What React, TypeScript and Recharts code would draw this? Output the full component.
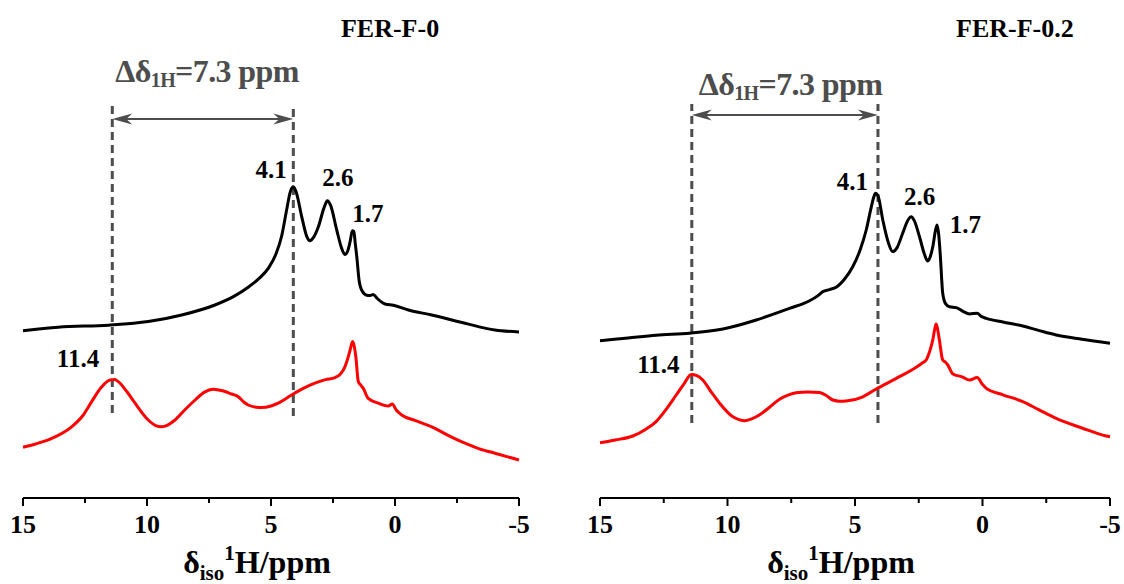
import React from "react";
import { LineChart, Line, XAxis, YAxis, ReferenceLine, ReferenceDot } from "recharts";

const SERIF = "'Liberation Serif', 'Times New Roman', serif";

// chemical shift axis (ppm), drawn reversed 15 -> -5
const ppmTicks = [15, 12.5, 10, 7.5, 5, 2.5, 0, -2.5, -5];
const majorTicks = [15, 10, 5, 0, -5];

// guide lines at the two marked shifts
const guidePpm = [11.4, 4.1];

// FER-F-0, black trace [ppm, intensity]
const fer0Black: [number, number][] = [
    [15, 41.8], [13.58, 42.7], [11.56, 43.2], [9.95, 44.1], [8.6, 45.75], [7.26, 48.25],
    [6.5, 50.4], [5.92, 52.7], [5.5, 54.8], [5.11, 57.4], [4.8, 61], [4.57, 65.5],
    [4.37, 72], [4.22, 76.6], [4.1, 77.8], [3.98, 76.4], [3.76, 70.3], [3.56, 65.4],
    [3.43, 64.3], [3.28, 65.2], [3.09, 67.8], [2.86, 72.6], [2.73, 74.3], [2.6, 73.2],
    [2.35, 67], [2.15, 62.4], [2.02, 60.9], [1.9, 61.9], [1.81, 64.1], [1.72, 66.8],
    [1.66, 66.6], [1.6, 63.5], [1.54, 60.3], [1.45, 54.5], [1.33, 51.8], [1.14, 50.7],
    [1.0, 50.6], [0.88, 50.9], [0.72, 49.9], [0.4, 48.5], [0.07, 48.2], [-0.54, 47],
    [-1.48, 45.75], [-2.82, 43.7], [-4.03, 42], [-5, 41.5],
];

// FER-F-0, red trace
const fer0Red: [number, number][] = [
    [15, 12.7], [14.5, 13.5], [13.84, 14.9], [13.04, 17.8], [12.6, 20.5], [12.23, 24.1],
    [11.85, 27.6], [11.49, 29.5], [11.3, 29.6], [11.16, 29.1], [10.8, 26.5], [10.48, 23.7],
    [9.95, 19.5], [9.65, 18.1], [9.41, 17.8], [9.15, 18.3], [8.87, 19.5], [8.45, 22.2],
    [8.06, 24.5], [7.7, 26.4], [7.33, 27.2], [6.95, 26.8], [6.59, 26], [6.32, 25.3],
    [6.1, 24], [5.92, 23.25], [5.6, 22.7], [5.38, 22.6], [5.0, 23], [4.71, 23.7],
    [4.17, 25.75], [3.7, 27.4], [3.23, 28.7], [2.8, 29.6], [2.42, 30.1], [2.2, 31],
    [2.02, 32.8], [1.88, 35.4], [1.81, 37], [1.71, 39.1], [1.64, 37.8], [1.58, 35.3],
    [1.48, 29.1], [1.38, 28.2], [1.28, 27.4], [1.08, 24.9], [0.67, 23.7], [0.27, 23],
    [0.11, 23.5], [-0.05, 22], [-0.27, 20.75], [-0.8, 19.4], [-1.48, 17.8], [-2.1, 15.8],
    [-2.82, 13.7], [-3.4, 12.3], [-4.03, 11.2], [-5, 9.5],
];

// FER-F-0.2, black trace
const fer02Black: [number, number][] = [
    [15, 39.3], [13.9, 40], [12.8, 40.7], [11.49, 41.2], [10.18, 42.25], [8.87, 44.5],
    [7.57, 47.4], [6.78, 49.3], [6.45, 50.6], [6.26, 51.6], [6.0, 52.1], [5.74, 52.7],
    [5.4, 54.8], [5.09, 57.8], [4.8, 62], [4.56, 67], [4.36, 72.8], [4.26, 75.3],
    [4.2, 76.2], [4.1, 75.6], [3.91, 69.5], [3.7, 64], [3.52, 61.6], [3.35, 62.6],
    [3.13, 66.2], [2.92, 69.5], [2.8, 70.3], [2.68, 69.4], [2.47, 65.3], [2.28, 61],
    [2.15, 59.25], [2.05, 60.3], [1.95, 62.8], [1.84, 67], [1.78, 68.25], [1.72, 66],
    [1.66, 61.2], [1.56, 51.2], [1.45, 48.6], [1.29, 47.8], [1.03, 47.6], [0.75, 46.6],
    [0.51, 46], [0.21, 46.2], [0.05, 45.4], [-0.15, 44.9], [-0.8, 44], [-1.58, 43],
    [-2.2, 41.9], [-2.89, 40.75], [-3.9, 39.7], [-5, 38.7],
];

// FER-F-0.2, red trace
const fer02Red: [number, number][] = [
    [15, 13.8], [14.4, 14.5], [13.71, 15.5], [13.2, 17.2], [12.8, 19.1], [12.4, 22.2],
    [12.01, 25.75], [11.7, 28.6], [11.42, 30.9], [11.2, 30.6], [10.97, 29.5], [10.65, 26.6],
    [10.31, 23.7], [9.79, 20.3], [9.55, 19.6], [9.33, 19.3], [9.05, 19.8], [8.75, 20.75],
    [8.35, 22.7], [7.96, 24.7], [7.6, 25.8], [7.31, 26.3], [6.85, 26.5], [6.39, 26.4],
    [6.1, 25.5], [5.87, 24.5], [5.6, 24.2], [5.35, 24.25], [4.69, 25.3], [4.17, 27.25],
    [3.38, 29.9], [2.6, 32.7], [2.35, 33.8], [2.21, 34.5], [2.08, 36.5], [1.95, 39.5],
    [1.88, 42], [1.82, 43.5], [1.76, 42.2], [1.69, 39.5], [1.56, 34.5], [1.46, 34],
    [1.36, 33.25], [1.16, 31], [0.8, 30.3], [0.51, 29.5], [0.21, 30.1], [0.0, 28.4],
    [-0.15, 27.4], [-0.8, 25.8], [-1.58, 24.1], [-2.2, 22.1], [-2.89, 19.9], [-3.9, 17.5],
    [-4.85, 15.5], [-5, 15.3],
];

// peak labels: text, ppm, level
const fer0Labels: [string, number, number][] = [
    ["4.1", 5.0, 80], ["2.6", 2.3, 78], ["1.7", 1.09, 69], ["11.4", 12.78, 32.75],
];
const fer02Labels: [string, number, number][] = [
    ["4.1", 5.1, 77], ["2.6", 2.47, 73.25], ["1.7", 0.67, 66.25], ["11.4", 12.71, 31.25],
];

const toPoints = (rows: [number, number][]) => rows.map(([ppm, v]) => ({ ppm, v }));

const PpmTick = (props: any) => {
    const { x, y, payload } = props;
    const major = majorTicks.includes(payload.value);
    return (
        <g>
            <line x1={x} x2={x} y1={y} y2={y + (major ? 8 : 5)} stroke="#000" strokeWidth={2} />
            {major && (
                <text x={x} y={y + 35} textAnchor="middle" fontFamily={SERIF} fontWeight="bold" fontSize={26} fill="#000">
                    {payload.value}
                </text>
            )}
        </g>
    );
};

const AxisTitle = (props: any) => {
    const vb = props.viewBox || {};
    const cx = (vb.x ?? 0) + (vb.width ?? 0) / 2 - 14;
    const y = (vb.y ?? 498) + 75;
    return (
        <text x={cx} y={y} textAnchor="middle" fontFamily={SERIF} fontWeight="bold" fontSize={32} fill="#000">
            δ<tspan fontSize={21} dy={7}>iso</tspan>
            <tspan fontSize={21} dy={-20}>1</tspan>
            <tspan fontSize={32} dy={13}>H/ppm</tspan>
        </text>
    );
};

const DoubleArrow = (p: any) => {
    const { x1, y1, x2 } = p;
    const c = "#4d4d4d";
    const len = 20, half = 5.5, notch = 14;
    return (
        <g>
            <line x1={x1 + 4} y1={y1} x2={x2 - 4} y2={y1} stroke={c} strokeWidth={2} />
            <polygon points={`${x1},${y1} ${x1 + len},${y1 - half} ${x1 + notch},${y1} ${x1 + len},${y1 + half}`} fill={c} />
            <polygon points={`${x2},${y1} ${x2 - len},${y1 - half} ${x2 - notch},${y1} ${x2 - len},${y1 + half}`} fill={c} />
        </g>
    );
};

interface PanelProps {
    title: string;
    titleAt: [number, number];
    black: [number, number][];
    red: [number, number][];
    labels: [string, number, number][];
    guideRange: [number, number][];
    arrowLevel: number;
    deltaAt: [number, number];
    width: number;
    margin: { top: number; right: number; bottom: number; left: number };
}

function Panel({ title, titleAt, black, red, labels, guideRange, arrowLevel, deltaAt, width, margin }: PanelProps) {
    return (
        <LineChart width={width} height={584} margin={margin}>
            <XAxis
                type="number"
                dataKey="ppm"
                domain={[-5, 15]}
                reversed
                ticks={ppmTicks}
                interval={0}
                tickSize={0}
                tickMargin={0}
                tickLine={false}
                tick={<PpmTick />}
                axisLine={{ stroke: "#000", strokeWidth: 2 }}
                height={80}
                label={<AxisTitle />}
            />
            <YAxis type="number" domain={[0, 122]} hide />
            {guidePpm.map((ppm, i) => (
                <ReferenceLine
                    key={ppm}
                    segment={[{ x: ppm, y: guideRange[i][0] }, { x: ppm, y: guideRange[i][1] }]}
                    stroke="#4d4d4d"
                    strokeWidth={3}
                    strokeDasharray="8 5"
                />
            ))}
            <ReferenceLine
                segment={[{ x: guidePpm[0], y: arrowLevel }, { x: guidePpm[1], y: arrowLevel }]}
                shape={(p: any) => <DoubleArrow {...p} />}
            />
            <Line data={toPoints(black)} dataKey="v" type="monotone" stroke="#000" strokeWidth={3} dot={false} isAnimationActive={false} />
            <Line data={toPoints(red)} dataKey="v" type="monotone" stroke="#ff0000" strokeWidth={3} dot={false} isAnimationActive={false} />
            {labels.map(([text, ppm, level]) => (
                <ReferenceDot
                    key={text}
                    x={ppm}
                    y={level}
                    r={0}
                    shape={(p: any) => (
                        <text x={p.cx} y={p.cy} textAnchor="middle" fontFamily={SERIF} fontWeight="bold" fontSize={25} fill="#000">
                            {text}
                        </text>
                    )}
                />
            ))}
            <ReferenceDot
                x={deltaAt[0]}
                y={deltaAt[1]}
                r={0}
                shape={(p: any) => (
                    <text x={p.cx} y={p.cy} textAnchor="middle" fontFamily={SERIF} fontWeight="bold" fontSize={32} fill="#4d4d4d" letterSpacing={-0.6}>
                        Δδ<tspan fontSize={20} dy={5}>1H</tspan>
                        <tspan fontSize={32} dy={-5}>=7.3 ppm</tspan>
                    </text>
                )}
            />
            <ReferenceDot
                x={titleAt[0]}
                y={titleAt[1]}
                r={0}
                shape={(p: any) => (
                    <text x={p.cx} y={p.cy} textAnchor="middle" fontFamily={SERIF} fontWeight="bold" fontSize={26} fill="#000">
                        {title}
                    </text>
                )}
            />
        </LineChart>
    );
}

export default function App() {
    return (
        <div style={{ position: "absolute", left: 0, top: 0, width: 1124, height: 584, background: "#fff", overflow: "hidden" }}>
            <div style={{ position: "absolute", left: 0, top: 0 }}>
                <Panel
                    title="FER-F-0"
                    titleAt={[0.2, 115.25]}
                    black={fer0Black}
                    red={fer0Red}
                    labels={fer0Labels}
                    guideRange={[[21.25, 99], [20.5, 98.5]]}
                    arrowLevel={94.75}
                    deltaAt={[7.58, 104]}
                    width={560}
                    margin={{ top: 10, right: 41, bottom: 6, left: 23 }}
                />
            </div>
            <div style={{ position: "absolute", left: 560, top: 0 }}>
                <Panel
                    title="FER-F-0.2"
                    titleAt={[-1.27, 115.25]}
                    black={fer02Black}
                    red={fer02Red}
                    labels={fer02Labels}
                    guideRange={[[18.75, 98.5], [18.75, 98.5]]}
                    arrowLevel={95.75}
                    deltaAt={[7.53, 100.75]}
                    width={564}
                    margin={{ top: 10, right: 14, bottom: 6, left: 40 }}
                />
            </div>
        </div>
    );
}
